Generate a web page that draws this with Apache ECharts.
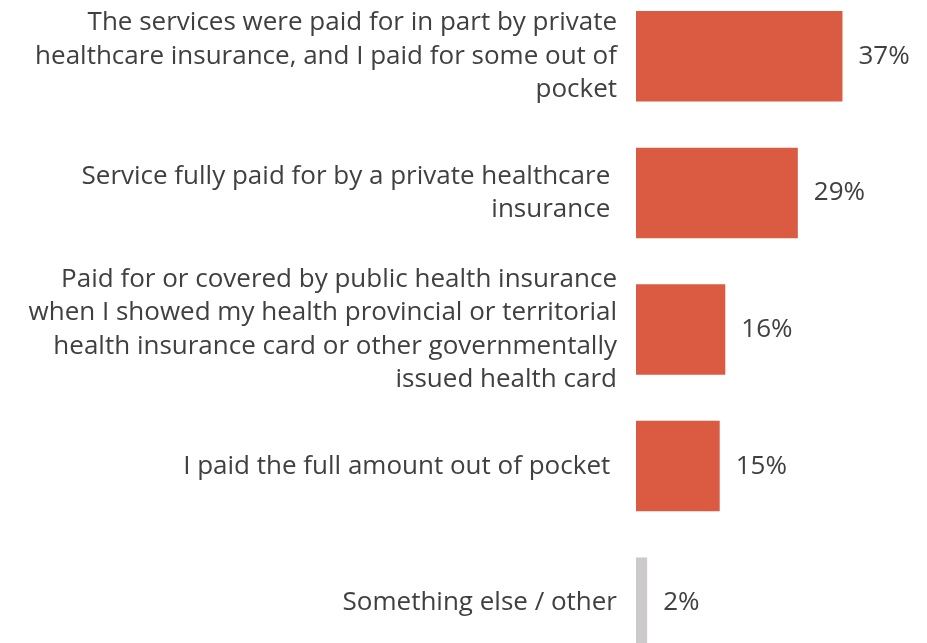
<!DOCTYPE html>
<html>
<head>
<meta charset="utf-8">
<script src="https://cdn.jsdelivr.net/npm/echarts@6/dist/echarts.min.js"></script>
<style>
  html, body { margin: 0; padding: 0; background: #ffffff; width: 927px; height: 643px; overflow: hidden; position: relative; }
  /* the plot runs past the top and bottom edges of the page */
  #chart { position: absolute; left: 0; top: -12px; width: 927px; height: 683px; }
</style>
</head>
<body>
<div id="chart"></div>
<script>
// How the services were paid for (share of respondents, %)
const categories = [
  "The services were paid for in part by private\nhealthcare insurance, and I paid for some out of\npocket",
  "Service fully paid for by a private healthcare \ninsurance ",
  "Paid for or covered by public health insurance\nwhen I showed my health provincial or territorial\nhealth insurance card or other governmentally\nissued health card",
  "I paid the full amount out of pocket ",
  "Something else / other"
];
const values = [37, 29, 16, 15, 2];
const barColors = ["#db5a42", "#db5a42", "#db5a42", "#db5a42", "#cccaca"];

const FONT = "'Open Sans', 'Noto Sans', sans-serif";
const chart = echarts.init(document.getElementById("chart"), null, { renderer: "canvas" });

chart.setOption({
  animation: false,
  backgroundColor: "#ffffff",
  grid: { left: 636, width: 279, top: 0, bottom: 0, containLabel: false },
  xAxis: {
    type: "value",
    min: 0,
    max: 50,
    show: false
  },
  yAxis: {
    type: "category",
    inverse: true,
    data: categories,
    axisLine: { show: false },
    axisTick: { show: false },
    axisLabel: {
      margin: 19,
      align: "right",
      color: "#404040",
      fontFamily: FONT,
      fontSize: 26,
      lineHeight: 33.5
    }
  },
  series: [{
    type: "bar",
    barWidth: 90.5,
    data: values.map((v, i) => ({ value: v, itemStyle: { color: barColors[i] } })),
    label: {
      show: true,
      position: "right",
      distance: 16,
      formatter: p => p.value + "%",
      color: "#404040",
      fontFamily: FONT,
      fontSize: 26
    }
  }]
});
</script>
</body>
</html>
